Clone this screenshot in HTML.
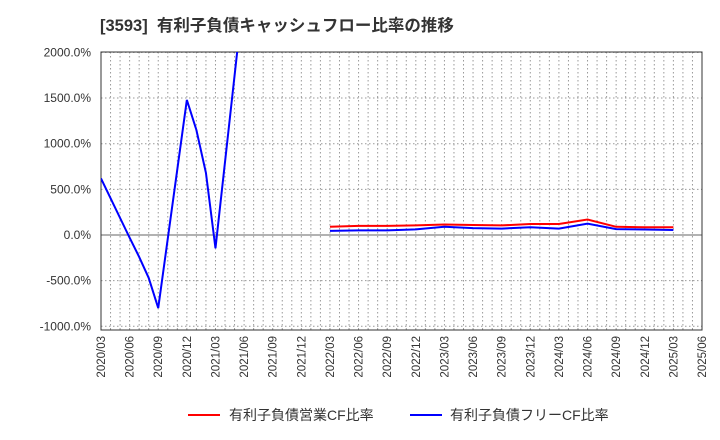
<!DOCTYPE html>
<html><head><meta charset="utf-8"><style>
body{margin:0;background:#fff;}
svg{display:block;font-family:"Liberation Sans","Noto Sans CJK JP",sans-serif;}
</style></head><body>
<svg id="chart" width="720" height="440" viewBox="0 0 720 440">
<text x="100" y="31" font-size="16.5" font-weight="bold" fill="#333" xml:space="preserve">[3593]  有利子負債キャッシュフロー比率の推移</text>
<g id="grid"></g><g id="axes"></g><g id="series"></g>
<g>
<line x1="188" y1="415" x2="220" y2="415" stroke="#f00" stroke-width="2"/>
<text x="229" y="420" font-size="14" fill="#333">有利子負債営業CF比率</text>
<line x1="410" y1="415" x2="442" y2="415" stroke="#00f" stroke-width="2"/>
<text x="450" y="420" font-size="14" fill="#333">有利子負債フリーCF比率</text>
</g>
</svg>
<script>
const yTicks=[2000,1500,1000,500,0,-500,-1000];
const xLabels=["2020/03","2020/06","2020/09","2020/12","2021/03","2021/06","2021/09","2021/12","2022/03","2022/06","2022/09","2022/12","2023/03","2023/06","2023/09","2023/12","2024/03","2024/06","2024/09","2024/12","2025/03","2025/06"];
const blueEarlyMonths=[0,3,4,5,6,9,10,11,12,15];
const blueEarlyValues=[620,-30,-240,-470,-800,1480,1150,680,-145,2690];
const laterQuarters=[8,9,10,11,12,13,14,15,16,17,18,19,20];
const redValues=[90,100,100,105,115,110,105,120,120,170,90,85,85];
const blueLaterValues=[45,50,50,62,90,75,70,85,70,125,65,60,55];

const L=101,R=702,T=52,B=330;
const NS="http://www.w3.org/2000/svg";
const mx=m=>L+(R-L)*m/63;
const yv=v=>235-(v/1000)*91.3;
function el(tag,attrs,parent){const e=document.createElementNS(NS,tag);for(const k in attrs)e.setAttribute(k,attrs[k]);parent.appendChild(e);return e;}
const grid=document.getElementById('grid'),axes=document.getElementById('axes'),series=document.getElementById('series');
for(let m=1;m<63;m++){
 const l=el('line',{x1:mx(m),x2:mx(m),y1:T,y2:B,stroke:'#999','stroke-dasharray':'1.5,2.5','stroke-width':1},grid);
 
 
}
yTicks.forEach(v=>{
 const y=yv(v);
 const l=el('line',{x1:L,x2:R,y1:y,y2:y,stroke:v===0?'#666':'#999','stroke-dasharray':v===0?'none':'1.5,2.5','stroke-width':1},grid);
 
 
 const t=el('text',{x:91,y:y+4,'text-anchor':'end','font-size':12,fill:'#333'},axes);
 t.textContent=v.toFixed(1)+'%';
 
 
});
xLabels.forEach((s,i)=>{
 const x=mx(i*3);
 const t=el('text',{x:x+4,y:336,'text-anchor':'end','font-size':11.5,fill:'#333',transform:`rotate(-90 ${x+4} 336)`},axes);
 t.textContent=s;
 
 
});
const frame=el('rect',{x:L,y:T,width:R-L,height:B-T,fill:'none',stroke:'#333','stroke-width':1},axes);


const cp=el('clipPath',{id:'clip'},series);
el('rect',{x:L,y:T,width:R-L,height:B-T},cp);
function line(xs,vs,color,name){
 const p=el('polyline',{points:xs.map((m,i)=>mx(m)+','+yv(vs[i])).join(' '),fill:'none',stroke:color,'stroke-width':2,'clip-path':'url(#clip)'},series);
 
 
}
line(blueEarlyMonths,blueEarlyValues,'#00f','free-cf-line-early');
line(laterQuarters.map(q=>q*3),redValues,'#f00','operating-cf-line');
line(laterQuarters.map(q=>q*3),blueLaterValues,'#00f','free-cf-line');
</script>
</body></html>
